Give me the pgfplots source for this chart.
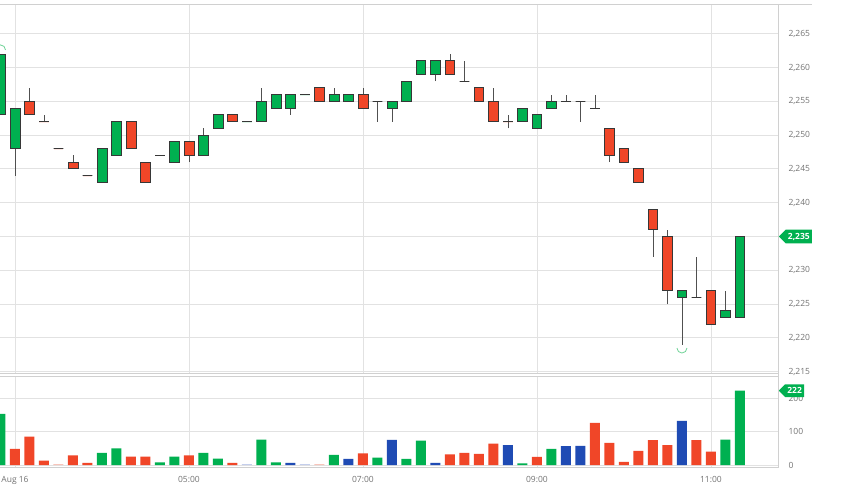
\documentclass[border=0pt]{standalone}
\usepackage{pgfplots}
\pgfplotsset{compat=1.18}
\usetikzlibrary{shapes.symbols}
\usepackage{fontspec}
\setmainfont{Open Sans}
\definecolor{gC}{RGB}{0,176,80}
\definecolor{rC}{RGB}{240,70,40}
\definecolor{bC}{RGB}{31,75,180}
\definecolor{frC}{RGB}{248,196,186}
\definecolor{fbC}{RGB}{196,206,236}
\definecolor{cOut}{RGB}{55,55,55}
\definecolor{wickC}{RGB}{80,80,80}
\definecolor{arcC}{RGB}{110,210,150}
\definecolor{gridC}{RGB}{226,226,226}
\definecolor{bordC}{RGB}{208,208,208}
\definecolor{txtC}{RGB}{115,115,115}
\pgfdeclareplotmark{lowarc}{\pgfpathmoveto{\pgfqpoint{-\pgfplotmarksize}{0pt}}\pgfpatharc{180}{360}{\pgfplotmarksize}\pgfusepathqstroke}
\pgfdeclareplotmark{higharc}{\pgfpathmoveto{\pgfqpoint{-\pgfplotmarksize}{0pt}}\pgfpatharc{180}{0}{\pgfplotmarksize}\pgfusepathqstroke}
% #1 index, #2 low, #3 body bottom, #4 body top, #5 high, #6 fill
\newcommand\cdl[6]{%
  \pgfmathsetmacro\xa{#1-0.34}\pgfmathsetmacro\xb{#1+0.34}%
  \edef\temp{%
    \noexpand\addplot[draw=wickC, line width=0.8pt] coordinates {(#1,#2)(#1,#5)};
    \noexpand\addplot[draw=cOut, fill=#6, line width=0.8pt, line join=miter] coordinates {(\xa,#3)(\xb,#3)(\xb,#4)(\xa,#4)(\xa,#3)} --cycle;}%
  \temp}
\tikzset{tag/.style={signal, signal to=west, signal pointer angle=90, fill=gC, text=white,
    font=\bfseries\fontsize{8.5}{10}\selectfont, inner xsep=2.2pt, inner ysep=3.3pt, anchor=west}}
\pgfplotsset{
  common/.style={
    scale only axis, width=778.5pt,
    xmin=-1.034, xmax=52.66,
    axis line style={draw=none},
    major tick length=0pt,
    xtick={0,12,24,36,48},
    xmajorgrids, ymajorgrids,
    major grid style={draw=gridC, line width=0.9pt},
    yticklabel pos=right,
    yticklabel style={anchor=west, xshift=6.5pt},
    tick label style={font=\fontsize{8.5}{10}\selectfont, text=txtC},
    /pgf/number format/assume math mode=true,
    /pgf/number format/1000 sep={,},
    clip mode=individual,
  }
}
\begin{document}
\begin{tikzpicture}
\path[use as bounding box] (0,0) rectangle (842pt,496pt);
\begin{axis}[common, name=price, at={(0pt,122.7pt)}, anchor=south west,
  height=368.6pt, ymin=2214.76, ymax=2269.29,
  ytick={2215,2220,2225,2230,2240,2245,2250,2255,2260,2265},
  extra y ticks={2235}, extra y tick labels={},
  extra y tick style={grid=major},
  xticklabels={}]
\cdl{-1}{2253}{2253}{2262}{2262}{gC}
\cdl{0}{2244}{2248}{2254}{2254}{gC}
\cdl{1}{2253}{2253}{2255}{2257}{rC}
\cdl{2}{2252}{2252}{2252}{2253}{rC}
\cdl{3}{2248}{2248}{2248}{2248}{rC}
\cdl{4}{2245}{2245}{2246}{2247}{rC}
\cdl{5}{2244}{2244}{2244}{2244}{rC}
\cdl{6}{2243}{2243}{2248}{2248}{gC}
\cdl{7}{2247}{2247}{2252}{2252}{gC}
\cdl{8}{2248}{2248}{2252}{2252}{rC}
\cdl{9}{2243}{2243}{2246}{2246}{rC}
\cdl{10}{2247}{2247}{2247}{2247}{gC}
\cdl{11}{2246}{2246}{2249}{2249}{gC}
\cdl{12}{2246}{2247}{2249}{2249}{rC}
\cdl{13}{2247}{2247}{2250}{2251}{gC}
\cdl{14}{2251}{2251}{2253}{2253}{gC}
\cdl{15}{2252}{2252}{2253}{2253}{rC}
\cdl{16}{2252}{2252}{2252}{2252}{gC}
\cdl{17}{2252}{2252}{2255}{2257}{gC}
\cdl{18}{2254}{2254}{2256}{2256}{gC}
\cdl{19}{2253}{2254}{2256}{2256}{gC}
\cdl{20}{2256}{2256}{2256}{2256}{gC}
\cdl{21}{2255}{2255}{2257}{2257}{rC}
\cdl{22}{2255}{2255}{2256}{2257}{gC}
\cdl{23}{2255}{2255}{2256}{2256}{gC}
\cdl{24}{2254}{2254}{2256}{2257}{rC}
\cdl{25}{2252}{2255}{2255}{2255}{gC}
\cdl{26}{2252}{2254}{2255}{2255}{gC}
\cdl{27}{2255}{2255}{2258}{2258}{gC}
\cdl{28}{2259}{2259}{2261}{2261}{gC}
\cdl{29}{2258}{2259}{2261}{2261}{gC}
\cdl{30}{2259}{2259}{2261}{2262}{rC}
\cdl{31}{2258}{2258}{2258}{2261}{rC}
\cdl{32}{2255}{2255}{2257}{2257}{rC}
\cdl{33}{2252}{2252}{2255}{2257}{rC}
\cdl{34}{2251}{2252}{2252}{2253}{rC}
\cdl{35}{2252}{2252}{2254}{2254}{gC}
\cdl{36}{2251}{2251}{2253}{2253}{gC}
\cdl{37}{2254}{2254}{2255}{2256}{gC}
\cdl{38}{2255}{2255}{2255}{2256}{gC}
\cdl{39}{2252}{2255}{2255}{2255}{gC}
\cdl{40}{2254}{2254}{2254}{2256}{rC}
\cdl{41}{2246}{2247}{2251}{2251}{rC}
\cdl{42}{2246}{2246}{2248}{2248}{rC}
\cdl{43}{2243}{2243}{2245}{2245}{rC}
\cdl{44}{2232}{2236}{2239}{2239}{rC}
\cdl{45}{2225}{2227}{2235}{2236}{rC}
\cdl{46}{2219}{2226}{2227}{2227}{gC}
\cdl{47}{2226}{2226}{2226}{2232}{rC}
\cdl{48}{2222}{2222}{2227}{2227}{rC}
\cdl{49}{2223}{2223}{2224}{2227}{gC}
\cdl{50}{2223}{2223}{2235}{2235}{gC}
\addplot[only marks, mark=lowarc, mark size=5pt, draw=arcC, line width=0.8pt] coordinates {(46,2218.5)};
\addplot[only marks, mark=higharc, mark size=5pt, draw=arcC, line width=0.8pt] coordinates {(-1,2262.6)};
\node[tag] at (axis cs:52.66,2235) {2,235};
\end{axis}
\fill[white] (0,0) rectangle (842pt,120pt);
\begin{axis}[common, name=vol, at={(0pt,28.3pt)}, anchor=south west,
  height=91.7pt, ymin=-8.06, ymax=265.7,
  ytick={0,100,200},
  xticklabels={Aug 16,05:00,07:00,09:00,11:00},
  xticklabel style={yshift=-5pt}]
\addplot[ybar, bar width=10pt, bar shift=0pt, fill=gC, draw=none] coordinates {
(-1,153)(6,36)(7,50)(10,8)(11,25)(13,36)(14,19)(17,76)(18,8)(22,30)(25,22)(27,18)(28,73)(35,5)(37,48)(49,76)(50,222)};
\addplot[ybar, bar width=10pt, bar shift=0pt, fill=rC, draw=none] coordinates {
(0,48)(1,85)(2,13)(4,29)(5,6)(8,25)(9,25)(12,29)(15,6)(24,35)(30,32)(31,36)(32,33)(33,64)(36,24)(40,126)(41,66)(42,9)(43,42)(44,74)(45,59)(47,74)(48,40)};
\addplot[ybar, bar width=10pt, bar shift=0pt, fill=bC, draw=none] coordinates {
(19,6)(23,18)(26,75)(29,6)(34,59)(38,56)(39,57)(46,132)};
\addplot[ybar, bar width=10pt, bar shift=0pt, fill=frC, draw=none] coordinates {(3,3)(21,3)};
\addplot[ybar, bar width=10pt, bar shift=0pt, fill=fbC, draw=none] coordinates {(16,3)(20,3)};
\node[tag] at (axis cs:52.66,222) {222};
\end{axis}
\draw[bordC, line width=0.9pt] (price.north west) -- ++(812pt,0);
\draw[bordC, line width=0.9pt] (price.north east) -- (vol.south east);
\draw[bordC, line width=0.9pt] (price.south west) -- (price.south east);
\draw[bordC, line width=0.9pt] (vol.north west) -- (vol.north east);
\draw[bordC, line width=0.9pt] (vol.south west) -- (vol.south east);
\end{tikzpicture}
\end{document}
